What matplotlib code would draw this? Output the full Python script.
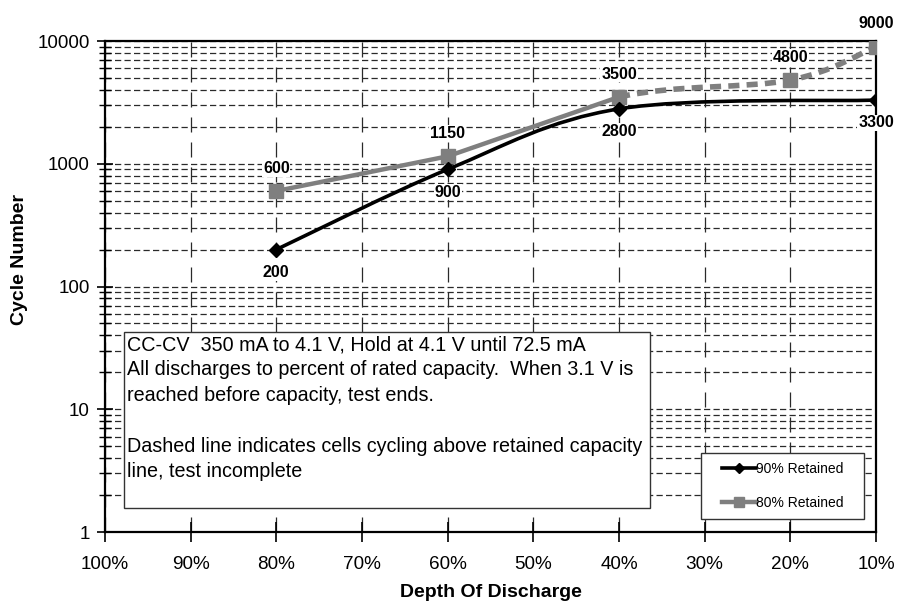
import numpy as np
import matplotlib.pyplot as plt
from matplotlib.path import Path
from matplotlib.patches import PathPatch, Rectangle
from matplotlib.lines import Line2D
from matplotlib.legend_handler import HandlerLine2D

plt.rcParams['font.family'] = ['Liberation Sans', 'DejaVu Sans']

depth_labels = ["100%", "90%", "80%", "70%", "60%", "50%", "40%", "30%", "20%", "10%"]

# 90% retained capacity
ret90_idx = [2, 4, 6, 9]
ret90_cycles = [200, 900, 2800, 3300]

# 80% retained capacity (solid part tested, dashed part still running)
ret80_idx = [2, 4, 6, 8, 9]
ret80_cycles = [600, 1150, 3500, 4800, 9000]
ret80_done = 3  # first three points are complete

note_lines = ["CC-CV  350 mA to 4.1 V, Hold at 4.1 V until 72.5 mA",
              "All discharges to percent of rated capacity.  When 3.1 V is",
              "reached before capacity, test ends.",
              "",
              "Dashed line indicates cells cycling above retained capacity",
              "line, test incomplete"]


def smooth_path(xs, ys, start=0, stop=None):
    # Catmull-Rom style bezier through the points, built in (x, log y) space;
    # start/stop pick which segments are drawn, neighbours still shape the curve
    pts = np.column_stack([xs, np.log10(ys)])
    n = len(pts)
    if stop is None:
        stop = n - 1
    verts = [pts[start]]
    codes = [Path.MOVETO]
    for i in range(start, stop):
        p0 = pts[max(i - 1, 0)]
        p1 = pts[i]
        p2 = pts[i + 1]
        p3 = pts[min(i + 2, n - 1)]
        c1 = p1 + (p2 - p0) / 6.0
        c2 = p2 - (p3 - p1) / 6.0
        verts += [c1, c2, p2]
        codes += [Path.CURVE4] * 3
    verts = np.array(verts)
    verts[:, 1] = 10 ** verts[:, 1]
    return Path(verts, codes)


fig = plt.figure(figsize=(8.97, 6.03), dpi=100)
ax = fig.add_axes([0.117, 0.1177, 0.8596, 0.8143])
ax.set_yscale('log')
ax.set_xlim(0, 9)
ax.set_ylim(1, 10000)

ax.set_xticks(range(len(depth_labels)))
ax.set_xticklabels(depth_labels, fontsize=13.6)
ax.set_yticks([1, 10, 100, 1000, 10000])
ax.set_yticklabels(["1", "10", "100", "1000", "10000"], fontsize=13.6)
ax.tick_params(axis='x', direction='inout', length=14, width=1.2, pad=10)
ax.tick_params(axis='y', which='major', direction='inout', length=12, width=1.2, pad=5)
ax.tick_params(axis='y', which='minor', direction='inout', length=8, width=1.0)

ax.grid(True, axis='y', which='both', color='#2a2a2a', linestyle=(0, (5, 2.6)), linewidth=0.9)
ax.grid(True, axis='x', which='major', color='#2a2a2a', linestyle=(0, (12, 8)), linewidth=0.9)
for s in ax.spines.values():
    s.set_linewidth(1.6)

# 90% retained: smoothed black line
ax.add_patch(PathPatch(smooth_path(ret90_idx, ret90_cycles), facecolor='none',
                       edgecolor='black', linewidth=2.6, zorder=4))
ax.plot(ret90_idx, ret90_cycles, linestyle='none', marker='D', markersize=7.5,
        color='black', zorder=5)

# 80% retained: solid where tested, dashed where still cycling
gray = '#7f7f7f'
ax.plot(ret80_idx[:ret80_done], ret80_cycles[:ret80_done], color=gray,
        linewidth=3.2, solid_capstyle='round', zorder=3)
ax.add_patch(PathPatch(smooth_path(ret80_idx, ret80_cycles, ret80_done - 1),
                       facecolor='none', edgecolor=gray, linewidth=4,
                       linestyle=(0, (2, 1.3)), zorder=3))
ax.plot(ret80_idx, ret80_cycles, linestyle='none', marker='s', markersize=10,
        color=gray, zorder=4)

# value labels
lbl_box = dict(boxstyle='square,pad=0.05', facecolor='white', edgecolor='none')
for x, y in zip(ret80_idx, ret80_cycles):
    ax.annotate(str(y), (x, y), xytext=(0, 11), textcoords='offset points',
                ha='center', va='bottom', fontsize=11.5, fontweight='bold',
                annotation_clip=False, bbox=lbl_box, zorder=6)
for x, y in zip(ret90_idx, ret90_cycles):
    ax.annotate(str(y), (x, y), xytext=(0, -11), textcoords='offset points',
                ha='center', va='top', fontsize=11.5, fontweight='bold',
                bbox=lbl_box, zorder=6)

# note box, one text per line so the spacing stays fixed
ax.add_patch(Rectangle((0.0246, 0.049), 0.682, 0.358, transform=ax.transAxes,
                       facecolor='white', edgecolor='#333333', linewidth=1.0, zorder=7))
for i, line in enumerate(note_lines):
    ax.text(0.029, 0.3707 - i * 0.0517, line, transform=ax.transAxes,
            ha='left', va='baseline', fontsize=14.2, zorder=8)

handles = [Line2D([], [], color='black', linewidth=2.6, marker='D', markersize=5.5),
           Line2D([], [], color=gray, linewidth=3.2, marker='s', markersize=7.5)]
leg = ax.legend(handles, ["90% Retained", "80% Retained"], loc='lower left',
                bbox_to_anchor=(0.773, 0.0265, 0.2114, 0.1), mode='expand',
                fontsize=10, frameon=True, fancybox=False, edgecolor='#333333',
                framealpha=1, labelspacing=1.45, handlelength=3.29,
                handletextpad=0.05, borderpad=0.65, borderaxespad=0,
                handler_map={Line2D: HandlerLine2D(xpad=0.86)})
leg.get_frame().set_linewidth(1.0)
leg.set_zorder(9)

ax.set_xlabel("Depth Of Discharge", fontsize=14, fontweight='bold', labelpad=8)
ax.set_ylabel("Cycle Number", fontsize=14, fontweight='bold', labelpad=14)
ax.yaxis.set_label_coords(-0.1, 0.556)

fig.savefig("out.png", dpi=100)
